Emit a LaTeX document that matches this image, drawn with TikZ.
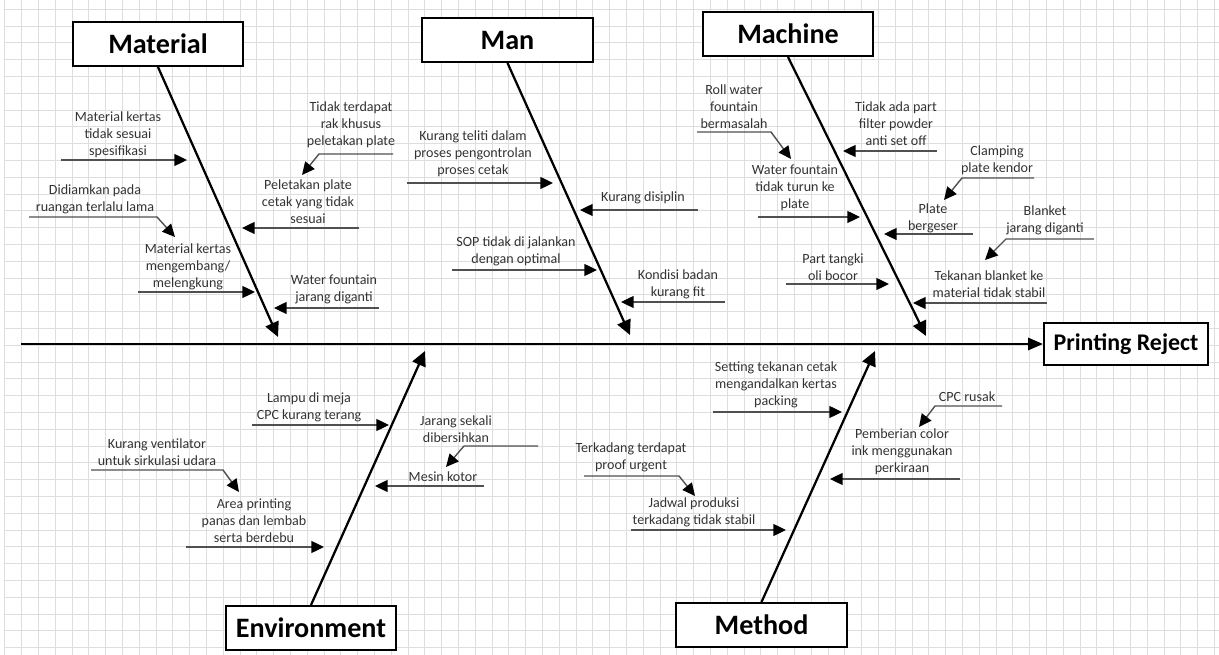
\documentclass[tikz,border=0pt]{standalone}
\usepackage{fontspec}
\setmainfont{Carlito}
\usetikzlibrary{arrows.meta,positioning}
\definecolor{gridgray}{HTML}{DEDEDE}
\definecolor{textgray}{HTML}{333333}
\definecolor{linegray}{HTML}{505050}

\tikzset{
  catbox/.style={draw, line width=1.4pt, fill=white, minimum width=4.25cm,
    minimum height=1.1cm, inner sep=0pt, font=\fontsize{20}{24}\selectfont\bfseries},
  effectbox/.style={draw, line width=1.4pt, fill=white, minimum width=4.1cm,
    minimum height=1.05cm, inner sep=0pt, font=\fontsize{17}{20}\selectfont\bfseries},
  spine/.style={line width=2pt, -{Triangle[length=10.5pt,width=8.5pt]}},
  bone/.style={line width=1.6pt, -{Triangle[length=10.5pt,width=10pt]}},
  cause/.style={linegray, line width=1pt, -{Triangle[length=9pt,width=8.5pt,color=black]}},
  lbl/.style={font=\fontsize{10}{12}\selectfont, text=textgray, align=center, inner sep=0pt},
  gridline/.style={gridgray, line width=0.8pt}
}

\begin{document}
\begin{tikzpicture}[x=0.025cm, y=-0.025cm]
  \useasboundingbox (0,0) rectangle (1219,655);
  % squared paper
  \foreach \i in {0,...,72}
    \draw[gridline] ({4.9+16.8*\i},0) -- ({4.9+16.8*\i},655);
  \foreach \j in {0,...,38}
    \draw[gridline] (5,{9.3+16.8*\j}) -- (1219,{9.3+16.8*\j});

  % head and category boxes
  \node[effectbox] (reject) at (1126,344) {Printing Reject};
  \node[catbox] (material) at (158,44) {Material};
  \node[catbox] (man) at (507.5,40) {Man};
  \node[catbox] (machine) at (788,34) {Machine};
  \node[catbox] (environment) at (311,628) {Environment};
  \node[catbox] (method) at (761.5,625) {Method};

  % spine and bones
  \coordinate (spineStart) at (21,344);
  \coordinate (matTip) at (278,337);
  \coordinate (manTip) at (630,335);
  \coordinate (macTip) at (926,336);
  \coordinate (envTip) at (425,351);
  \coordinate (metTip) at (875,351);
  \draw[spine] (spineStart) -- (reject.west);
  \draw[bone] (material.south) -- (matTip);
  \draw[bone] (man.south) -- (manTip);
  \draw[bone] (machine.south) -- (macTip);
  \draw[bone] (environment.north) -- (envTip);
  \draw[bone] (method.north) -- (metTip);

  % material causes
  \node[lbl] (mat1) at (118,135) {Material kertas\\tidak sesuai\\spesifikasi};
  \node[lbl] (mat2) at (351,125) {Tidak terdapat\\rak khusus\\peletakan plate};
  \node[lbl] (mat3) at (308,202) {Peletakan plate\\cetak yang tidak\\sesuai};
  \node[lbl] (mat4) at (95,199) {Didiamkan pada\\ruangan terlalu lama};
  \node[lbl] (mat5) at (188,267) {Material kertas\\mengembang/\\melengkung};
  \node[lbl] (mat6) at (334,289) {Water fountain\\jarang diganti};
  \coordinate (mat1s) at (61,160);   \coordinate (mat1e) at (187,160);
  \coordinate (mat2s) at (393,154);  \coordinate (mat2b) at (319,154);  \coordinate (mat2e) at (302,175);
  \coordinate (mat3s) at (359,228);  \coordinate (mat3e) at (242,228);
  \coordinate (mat4s) at (29,217);   \coordinate (mat4b) at (157,217);  \coordinate (mat4e) at (175,237);
  \coordinate (mat5s) at (138,292);  \coordinate (mat5e) at (255,292);
  \coordinate (mat6s) at (379,308);  \coordinate (mat6e) at (274,308);
  \draw[cause] (mat1s) -- (mat1e);
  \draw[cause] (mat2s) -- (mat2b) -- (mat2e);
  \draw[cause] (mat3s) -- (mat3e);
  \draw[cause] (mat4s) -- (mat4b) -- (mat4e);
  \draw[cause] (mat5s) -- (mat5e);
  \draw[cause] (mat6s) -- (mat6e);

  % man causes
  \node[lbl] (man1) at (473,154) {Kurang teliti dalam\\proses pengontrolan\\proses cetak};
  \node[lbl] (man2) at (643,198) {Kurang disiplin};
  \node[lbl] (man3) at (516,251) {SOP tidak di jalankan\\dengan optimal};
  \node[lbl] (man4) at (678,284) {Kondisi badan\\kurang fit};
  \coordinate (man1s) at (407,183);  \coordinate (man1e) at (553,183);
  \coordinate (man2s) at (698,210);  \coordinate (man2e) at (580,210);
  \coordinate (man3s) at (452,270);  \coordinate (man3e) at (597,270);
  \coordinate (man4s) at (725,302);  \coordinate (man4e) at (621,302);
  \draw[cause] (man1s) -- (man1e);
  \draw[cause] (man2s) -- (man2e);
  \draw[cause] (man3s) -- (man3e);
  \draw[cause] (man4s) -- (man4e);

  % machine causes
  \node[lbl] (mac1) at (734,107) {Roll water\\fountain\\bermasalah};
  \node[lbl] (mac2) at (896,124) {Tidak ada part\\filter powder\\anti set off};
  \node[lbl] (mac3) at (795,188) {Water fountain\\tidak turun ke\\plate};
  \node[lbl] (mac4) at (997,160) {Clamping\\plate kendor};
  \node[lbl] (mac5) at (933,218) {Plate\\bergeser};
  \node[lbl] (mac6) at (1045,220) {Blanket\\jarang diganti};
  \node[lbl] (mac7) at (833,267) {Part tangki\\oli bocor};
  \node[lbl] (mac8) at (989,284) {Tekanan blanket ke\\material tidak stabil};
  \coordinate (mac1s) at (697,132);  \coordinate (mac1b) at (771,132);  \coordinate (mac1e) at (791,159);
  \coordinate (mac2s) at (937,151);  \coordinate (mac2e) at (843,151);
  \coordinate (mac3s) at (758,217);  \coordinate (mac3e) at (860,217);
  \coordinate (mac4s) at (1034,178); \coordinate (mac4b) at (962,178);  \coordinate (mac4e) at (944,200);
  \coordinate (mac5s) at (973,234);  \coordinate (mac5e) at (884,234);
  \coordinate (mac6s) at (1094,239); \coordinate (mac6b) at (1006,239); \coordinate (mac6e) at (985,260);
  \coordinate (mac7s) at (786,284);  \coordinate (mac7e) at (889,284);
  \coordinate (mac8s) at (1047,303); \coordinate (mac8e) at (913,303);
  \draw[cause] (mac1s) -- (mac1b) -- (mac1e);
  \draw[cause] (mac2s) -- (mac2e);
  \draw[cause] (mac3s) -- (mac3e);
  \draw[cause] (mac4s) -- (mac4b) -- (mac4e);
  \draw[cause] (mac5s) -- (mac5e);
  \draw[cause] (mac6s) -- (mac6b) -- (mac6e);
  \draw[cause] (mac7s) -- (mac7e);
  \draw[cause] (mac8s) -- (mac8e);

  % environment causes
  \node[lbl] (env1) at (309,407) {Lampu di meja\\CPC kurang terang};
  \node[lbl] (env2) at (456,429) {Jarang sekali\\dibersihkan};
  \node[lbl] (env3) at (443,477) {Mesin kotor};
  \node[lbl] (env4) at (157,452) {Kurang ventilator\\untuk sirkulasi udara};
  \node[lbl] (env5) at (254,521) {Area printing\\panas dan lembab\\serta berdebu};
  \coordinate (env1s) at (252,425);  \coordinate (env1e) at (389,425);
  \coordinate (env2s) at (538,446);  \coordinate (env2b) at (464,446);  \coordinate (env2e) at (446,467);
  \coordinate (env3s) at (484,486);  \coordinate (env3e) at (375,486);
  \coordinate (env4s) at (91,470);   \coordinate (env4b) at (223,470);  \coordinate (env4e) at (239,492);
  \coordinate (env5s) at (186,547);  \coordinate (env5e) at (324,547);
  \draw[cause] (env1s) -- (env1e);
  \draw[cause] (env2s) -- (env2b) -- (env2e);
  \draw[cause] (env3s) -- (env3e);
  \draw[cause] (env4s) -- (env4b) -- (env4e);
  \draw[cause] (env5s) -- (env5e);

  % method causes
  \node[lbl] (met1) at (776,385) {Setting tekanan cetak\\mengandalkan kertas\\packing};
  \node[lbl] (met2) at (967,397) {CPC rusak};
  \node[lbl] (met3) at (902,452) {Pemberian color\\ink menggunakan\\perkiraan};
  \node[lbl] (met4) at (631,457) {Terkadang terdapat\\proof urgent};
  \node[lbl] (met5) at (694,512) {Jadwal produksi\\terkadang tidak stabil};
  \coordinate (met1s) at (713,412);  \coordinate (met1e) at (842,412);
  \coordinate (met2s) at (1002,406); \coordinate (met2b) at (935,406);  \coordinate (met2e) at (919,427);
  \coordinate (met3s) at (960,479);  \coordinate (met3e) at (830,479);
  \coordinate (met4s) at (584,476);  \coordinate (met4b) at (679,476);  \coordinate (met4e) at (695,496);
  \coordinate (met5s) at (631,530);  \coordinate (met5e) at (786,530);
  \draw[cause] (met1s) -- (met1e);
  \draw[cause] (met2s) -- (met2b) -- (met2e);
  \draw[cause] (met3s) -- (met3e);
  \draw[cause] (met4s) -- (met4b) -- (met4e);
  \draw[cause] (met5s) -- (met5e);
\end{tikzpicture}
\end{document}
